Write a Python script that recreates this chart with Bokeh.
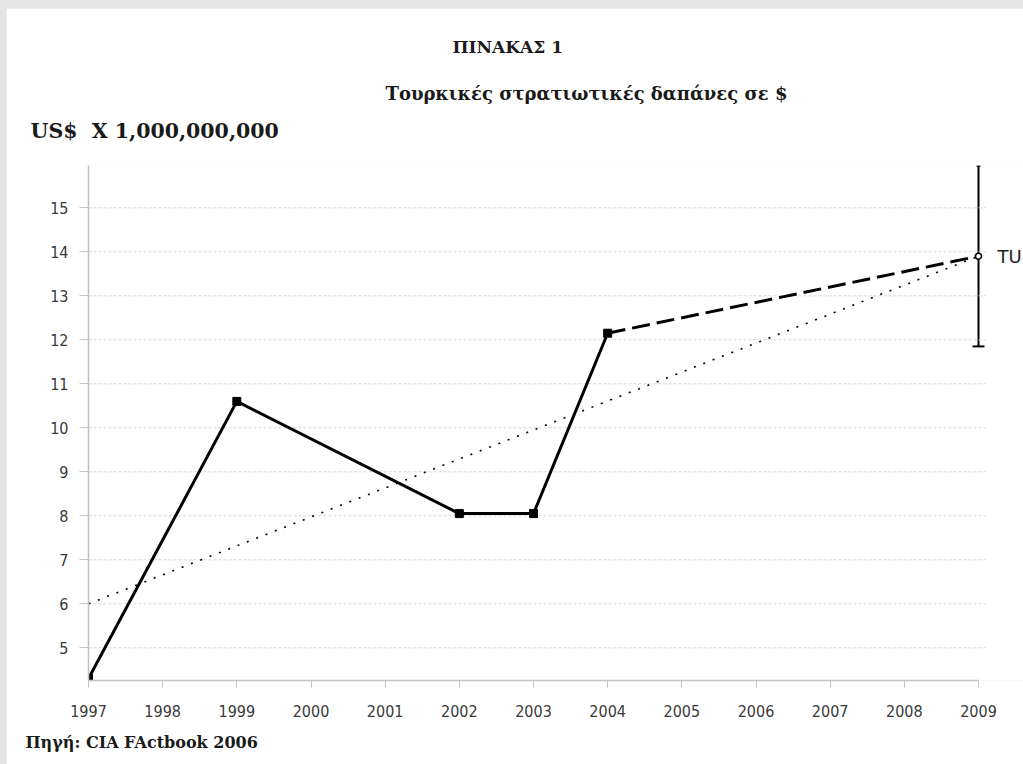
from bokeh.plotting import figure
from bokeh.models import Range1d, Label, Whisker, ColumnDataSource, FixedTicker, TeeHead, Title
from bokeh.embed import file_html
from bokeh.resources import INLINE

# ---- data ----
years = [1997, 1999, 2002, 2003, 2004]
spending = [4.3, 10.6, 8.05, 8.05, 12.15]
proj_years = [2004, 2009]
proj_values = [12.15, 13.9]
trend_years = [1997, 2009]
trend_values = [6.0, 13.9]
err_year = [2009]
err_low = [11.85]
err_high = [15.95]
err_mid = [13.9]
x_ticks = list(range(1997, 2010))
y_ticks = list(range(5, 16))

title_text = "ΠΙΝΑΚΑΣ 1"
subtitle_text = "Τουρκικές στρατιωτικές δαπάνες σε $"
unit_text = "US$\u00a0 X 1,000,000,000"
source_text = "Πηγή: CIA FActbook 2006"
end_label = "TU"

# ---- layout helpers (page pixel -> data) ----
X0, Y0 = 1997, 4.257
PX_X, PX_Y = 74.167, 44.0


def dx(px):
    return X0 + (px - 88) / PX_X


def dy(py):
    return Y0 + (680 - py) / PX_Y


W, H = 1017, 756
p = figure(width=W, height=H, output_backend="svg", toolbar_location=None,
           x_range=Range1d(X0, dx(1023)), y_range=Range1d(Y0, dy(165)),
           min_border_left=82, min_border_right=0,
           min_border_top=157, min_border_bottom=84)
p.outline_line_color = None
p.background_fill_color = "white"
p.border_fill_color = "white"
p.xgrid.visible = False
p.ygrid.visible = False

# grid lines
p.segment(x0=[x_ticks[0]] * len(y_ticks), x1=[dx(985)] * len(y_ticks),
          y0=y_ticks, y1=y_ticks, line_color="#d4d4d4", line_width=1,
          line_dash="3 2")

axis_col = "#c2c2c2"
tick_font = "'DejaVu Sans Condensed', 'DejaVu Sans'"
for ax in (p.xaxis[0], p.yaxis[0]):
    ax.axis_line_color = axis_col
    ax.axis_line_width = 1.5
    ax.major_tick_line_color = axis_col
    ax.major_tick_in = 0
    ax.minor_tick_line_color = None
    ax.major_label_text_font = tick_font
    ax.major_label_text_font_size = "16px"
    ax.major_label_text_color = "#3a3a3a"

p.xaxis.ticker = FixedTicker(ticks=x_ticks)
p.xaxis.bounds = (x_ticks[0], x_ticks[-1])
p.xaxis.major_tick_out = 7
p.xaxis.major_label_standoff = 17
p.yaxis.ticker = FixedTicker(ticks=y_ticks)
p.yaxis.major_tick_out = 9
p.yaxis.major_label_standoff = 11

# trend (dotted)
p.line(trend_years, trend_values, line_color="black", line_width=1.6,
       line_dash="2 8")
# projection (dashed)
p.line(proj_years, proj_values, line_color="black", line_width=3,
       line_dash="18 7")
# actual values
p.line(years, spending, line_color="black", line_width=3)
p.scatter(years, spending, marker="square", size=8, color="black")

# error bar
src = ColumnDataSource(dict(x=err_year, low=err_low, high=err_high))
p.add_layout(Whisker(source=src, base="x", lower="low", upper="high",
                     line_color="black", line_width=2,
                     lower_head=TeeHead(size=12, line_width=2, line_color="black"),
                     upper_head=TeeHead(size=4, line_width=1.5, line_color="black")))
p.scatter(err_year, err_mid, marker="circle", size=6, fill_color="white",
          line_color="black", line_width=1.5)

p.add_layout(Label(x=dx(997), y=err_mid[0], text=end_label,
                   text_font="DejaVu Sans", text_font_size="18px",
                   text_color="#222222", text_baseline="middle"))

# ---- titles ----
serif = "'DejaVu Serif'"
# the plot's own title sits outermost
p.title.text = title_text
p.title.text_font = serif
p.title.text_font_size = "17px"
p.title.text_font_style = "bold"
p.title.text_color = "#1a1a1a"
p.title.align = "left"
p.title.offset = 364
p.title.standoff = 40

# other "above" panels: first added sits closest to the frame
p.add_layout(Title(text="\u00a0", text_font_size="2px", standoff=11), "above")  # spacer
p.add_layout(Title(text=unit_text, text_font=serif, text_font_size="20.5px",
                   text_font_style="bold", text_color="#1a1a1a",
                   align="left", offset=-58, standoff=16), "above")
p.add_layout(Title(text=subtitle_text, text_font=serif, text_font_size="18px",
                   text_font_style="bold", text_color="#1a1a1a",
                   align="left", offset=297, standoff=9), "above")
p.add_layout(Title(text=source_text, text_font=serif, text_font_size="16px",
                   text_font_style="bold", text_color="#1a1a1a",
                   align="left", offset=-63, standoff=23), "below")

html = file_html(p, INLINE)
css = ("<style>html, body {background:#e4e4e4 !important;} "
       "body {padding:8px 0 0 6px !important; overflow:hidden !important;}</style>")
html = html.replace("</head>", css + "</head>", 1)
open("out.html", "w").write(html)
